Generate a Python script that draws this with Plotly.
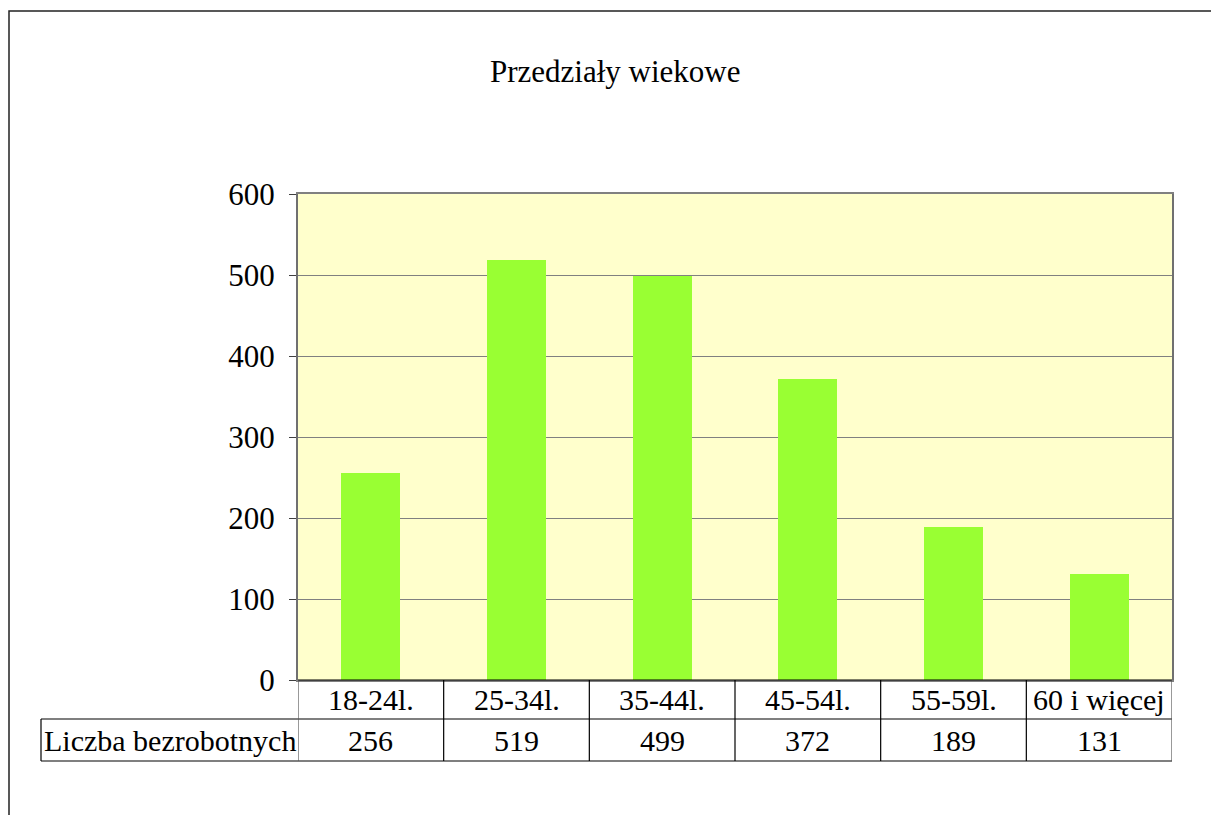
import plotly.graph_objects as go

categories = ["18-24l.", "25-34l.", "35-44l.", "45-54l.", "55-59l.", "60 i więcej"]
values = [256, 519, 499, 372, 189, 131]
series_name = "Liczba bezrobotnych"
title_text = "Przedziały wiekowe"
y_ticks = [0, 100, 200, 300, 400, 500, 600]

FONT = "Liberation Serif"
OFF = 8  # page offset of the figure in the screenshot
W, H = 1219 - OFF, 815 - OFF
# target pixel positions (screenshot coordinates)
PL, PR, PT, PB = 298, 1172, 194, 680
L, R, T, B = PL - OFF, W - (PR - OFF), PT - OFF, H - (PB - OFF)
PH = PB - PT
PW = PR - PL

def py(p):
    return (PB - p) / PH

def px(p):
    return (p - PL) / PW

xs = list(range(len(categories)))

fig = go.Figure()
fig.add_trace(go.Bar(x=xs, y=values, width=0.405, marker=dict(color="#99FF33", line=dict(width=0)),
                     name=series_name, hoverinfo="y"))

shapes = []
annotations = []
row1 = py(719)
row2 = py(761)
# outer chart border
shapes.append(dict(type="rect", xref="paper", yref="paper", x0=px(9), y0=py(11), x1=px(1260), y1=py(860),
                   line=dict(color="#222222", width=1.5), fillcolor="rgba(0,0,0,0)", layer="below"))
# table lines
shapes.append(dict(type="line", xref="x", yref="paper", x0=-0.5, x1=len(categories) - 0.5, y0=0, y1=0,
                   line=dict(color="black", width=1.2)))
shapes.append(dict(type="line", xref="paper", yref="paper", x0=px(41), x1=1, y0=row1, y1=row1,
                   line=dict(color="black", width=1.2)))
shapes.append(dict(type="line", xref="paper", yref="paper", x0=px(41), x1=1, y0=row2, y1=row2,
                   line=dict(color="black", width=1.2)))
shapes.append(dict(type="line", xref="paper", yref="paper", x0=px(41), x1=px(41), y0=row1, y1=row2,
                   line=dict(color="black", width=1.2)))
for i in range(len(categories) + 1):
    shapes.append(dict(type="line", xref="x", yref="paper", x0=i - 0.5, x1=i - 0.5, y0=0, y1=row2,
                       line=dict(color="black" if 0 < i < len(categories) else "#555555", width=1.2)))

TS = 30
for i, (c, v) in enumerate(zip(categories, values)):
    annotations.append(dict(x=i, y=(0 + row1) / 2, xref="x", yref="paper", text=c, showarrow=False,
                            font=dict(family=FONT, size=TS, color="black"), xanchor="center", yanchor="middle"))
    annotations.append(dict(x=i, y=(row1 + row2) / 2, xref="x", yref="paper", text=str(v), showarrow=False,
                            font=dict(family=FONT, size=TS, color="black"), xanchor="center", yanchor="middle"))
annotations.append(dict(x=px((41 + 298) / 2), y=(row1 + row2) / 2, xref="paper", yref="paper", text=series_name,
                        showarrow=False, font=dict(family=FONT, size=TS, color="black"),
                        xanchor="center", yanchor="middle"))
annotations.append(dict(x=px(615), y=py(72), xref="paper", yref="paper", text=title_text, showarrow=False,
                        font=dict(family=FONT, size=31, color="black"), xanchor="center", yanchor="middle"))

fig.update_layout(
    width=W, height=H,
    margin=dict(l=L, r=R, t=T, b=B),
    paper_bgcolor="white",
    plot_bgcolor="#FFFFCC",
    showlegend=False,
    bargap=0,
    shapes=shapes,
    annotations=annotations,
    xaxis=dict(range=[-0.5, len(categories) - 0.5], showticklabels=False, ticks="", showgrid=False,
               zeroline=False, showline=True, mirror=True, linecolor="#808080", linewidth=2, fixedrange=True),
    yaxis=dict(range=[0, 600], tickvals=y_ticks, ticktext=[str(t) for t in y_ticks], ticks="outside",
               ticklen=7, tickcolor="#404040", tickwidth=1, showgrid=True, gridcolor="#808080", gridwidth=1,
               zeroline=False, showline=True, mirror=True, linecolor="#707070", linewidth=2,
               tickfont=dict(family=FONT, size=31, color="black"), ticklabelstandoff=8, fixedrange=True),
)

fig.write_html("out.html")
